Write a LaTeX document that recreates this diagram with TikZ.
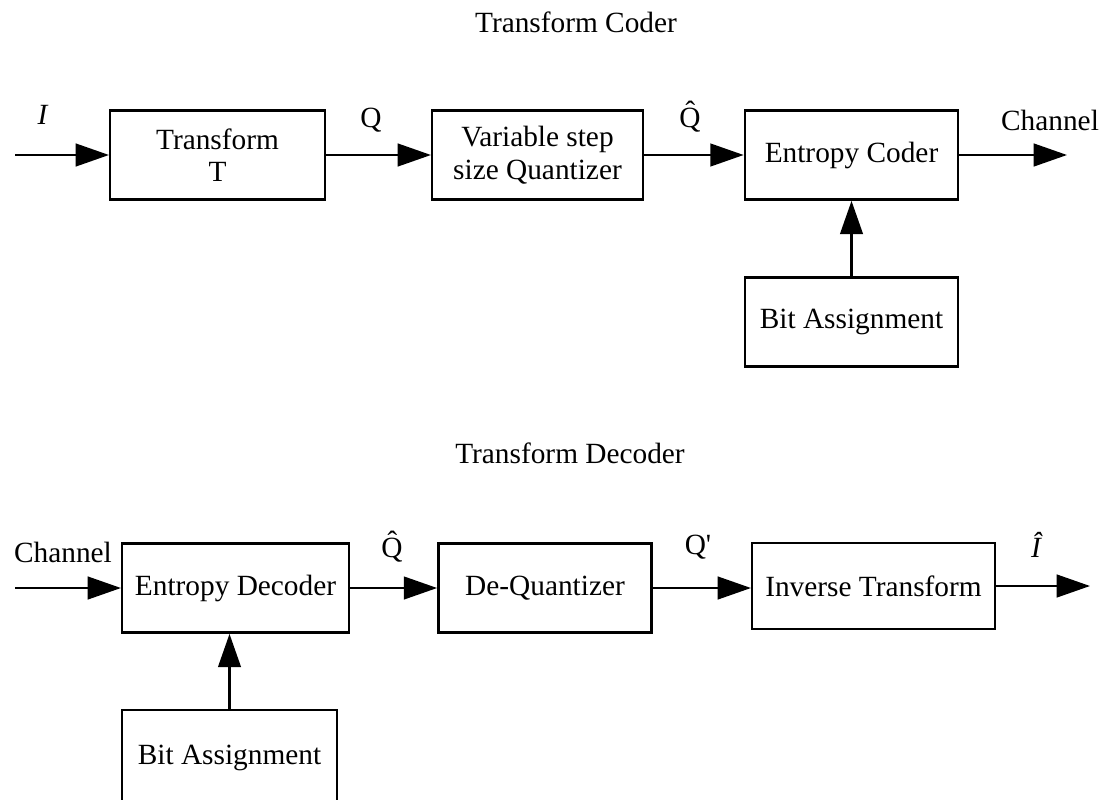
\documentclass[tikz,border=0pt]{standalone}
\usepackage{fontspec}
\setmainfont{Liberation Serif}
\usepackage{tikz}
\usetikzlibrary{arrows.meta,positioning}
\tikzset{
	blk/.style={draw, line width=1.8pt, minimum height=67pt, align=center, inner sep=2pt, font=\fontsize{22}{24}\selectfont},
	lbl/.style={inner sep=0.75pt, font=\fontsize{22}{24}\selectfont},
	flow/.style={line width=1.8pt, -{Triangle[length=25pt,width=17pt]}}
}
\begin{document}
\begin{tikzpicture}[x=0.75pt,y=0.75pt,yscale=-1,xscale=1]
	\useasboundingbox (0,0) rectangle (1105,799);
	
	%Shape: Rectangle [coder row]
	\node [blk, minimum width=161pt] (tr) at (217.5,155) {Transform\\T};
	\node [blk, minimum width=158pt, font=\fontsize{22}{25}\selectfont] (qz) at (537.5,155) {Variable step\\size Quantizer};
	\node [blk, minimum width=160pt] (ec) at (851.5,155) {Entropy Coder};
	\node [blk, minimum width=160pt] (ba1) at (851.5,322) {Bit Assignment};
	%Shape: Rectangle [decoder row]
	\node [blk, minimum width=170pt] (ed) at (235.5,588) {Entropy Decoder};
	\node [blk, minimum width=160pt] (dq) at (545,588) {De-Quantizer};
	\node [blk, minimum width=182pt, minimum height=64.5pt] (it) at (873.5,586) {Inverse Transform};
	\node [blk, minimum width=161pt, minimum height=72pt] (ba2) at (229.5,758) {Bit Assignment};
	
	%Free ends
	\coordinate (cin) at (15,155);
	\coordinate (cout) at (1067,155);
	\coordinate (din) at (15,588);
	\coordinate (dout) at (1090,586);
	
	%Straight Lines
	\draw [flow] (cin) -- (tr);
	\draw [flow] (tr) -- (qz);
	\draw [flow] (qz) -- (ec);
	\draw [flow] (ec) -- (cout);
	\draw [flow] (ba1) -- (ec);
	\draw [flow] (din) -- (ed);
	\draw [flow] (ed) -- (dq);
	\draw [flow] (dq.east) -- (it.west |- dq.east);
	\draw [flow] (it) -- (dout);
	\draw [flow] (ba2.north) -- (ba2.north |- ed.south);
	
	% Text Node
	\node [lbl] (ttlc) at (576,22) {Transform Coder};
	% Text Node
	\node [lbl] (ttld) at (570,453) {Transform Decoder};
	% Text Node
	\node [lbl] (lI) at (43,115) {\textit{I}};
	% Text Node
	\node [lbl] (lQ) at (371,120) {Q};
	% Text Node
	\node [lbl] (lQh) at (690,117) {\^Q};
	% Text Node
	\node [lbl] (lch) at (1050,120) {Channel};
	% Text Node
	\node [lbl] (lchd) at (63,552) {Channel};
	% Text Node
	\node [lbl] (lQhd) at (392,547) {\^Q};
	% Text Node
	\node [lbl] (lQp) at (698,547) {Q\textquotesingle};
	% Text Node
	\node [lbl] (lIh) at (1037,545) {\textit{\^I}};
\end{tikzpicture}
\end{document}
